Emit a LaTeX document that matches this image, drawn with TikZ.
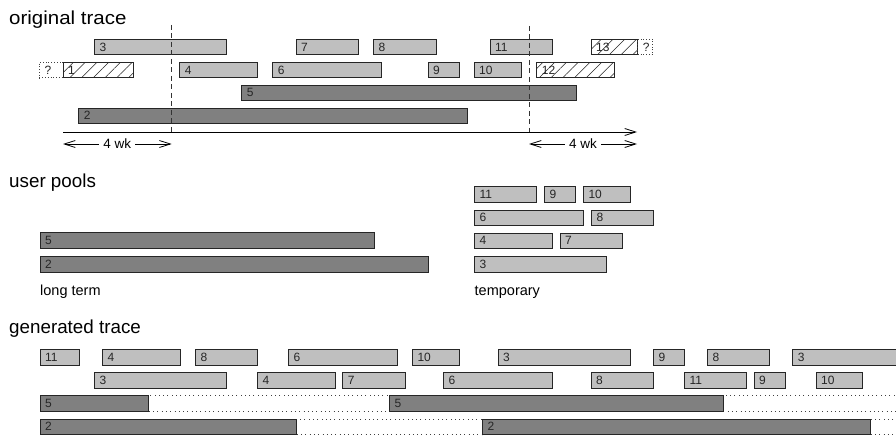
\documentclass[tikz,border=0pt]{standalone}
\usepackage{fontspec}
\setmainfont{Liberation Sans}
\usetikzlibrary{patterns.meta,arrows.meta}

\tikzset{
  bar/.style={draw=black!85, line width=0.8pt, inner sep=0pt, outer sep=0pt,
    minimum height=15.6pt, anchor=north west},
  lbar/.style={bar, fill=black!25},
  dbar/.style={bar, fill=black!50},
  hbar/.style={bar, pattern={Lines[angle=45,distance=8.3pt,line width=0.55pt]}, pattern color=black!85},
  qbox/.style={bar, draw=black!75, dotted},
  gapbox/.style={bar, draw=black!75, line width=0.7pt, dash pattern=on 0.8pt off 3.5pt},
  blabel/.style={font=\fontsize{12}{12}\selectfont, inner sep=0pt, anchor=west, text=black!85},
  title/.style={font=\fontsize{18.8}{20}\selectfont, anchor=base west, inner sep=0pt},
  caption/.style={font=\fontsize{14.5}{16}\selectfont, anchor=base west, inner sep=0pt},
  vdash/.style={draw=black!80, line width=0.8pt, dash pattern=on 5pt off 3.5pt},
  axisline/.style={draw=black, line width=0.8pt, -{Straight Barb[length=11pt,width=7pt]}},
  wkarrow/.style={draw=black, line width=0.8pt, {Straight Barb[length=11pt,width=7pt]}-{Straight Barb[length=11pt,width=7pt]}},
  wklabel/.style={font=\fontsize{13.5}{14}\selectfont, fill=white, inner xsep=4pt, inner ysep=1pt},
}

% name, style, x1, x2, ytop, label
\newcommand\jobbox[6]{%
  \node[#2, minimum width={(#4-#3)*1pt}] (#1) at (#3,#5) {};
  \node[blabel] (#1l) at ([xshift=5pt]#1.west) {#6};}
\newcommand\gapb[4]{%
  \node[gapbox, minimum width={(#4-#3)*1pt}] (#1) at (#3,#2) {};}

\begin{document}
\begin{tikzpicture}[x=1pt,y=-1pt]
\clip (0,0) rectangle (896,441);
\fill[white] (0,0) rectangle (896,441);

% ---------- original trace ----------
\node[title] (t1) at (9,24.5) {\scalebox{1.09}[1]{original trace}};

\jobbox{o3}{lbar}{94.3}{226.7}{39.3}{3}
\jobbox{o7}{lbar}{296}{358.3}{39.3}{7}
\jobbox{o8}{lbar}{373.3}{436}{39.3}{8}
\jobbox{o11}{lbar}{490}{552.3}{39.3}{11}
\jobbox{o13}{hbar}{591}{637.7}{39.3}{13}
\jobbox{oq2}{qbox}{637.7}{652.7}{39.3}{?}

\jobbox{oq1}{qbox}{39.3}{63}{62.3}{?}
\jobbox{o1}{hbar}{63}{133.7}{62.3}{1}
\jobbox{o4}{lbar}{179.7}{257.7}{62.3}{4}
\jobbox{o6}{lbar}{272.7}{381.7}{62.3}{6}
\jobbox{o9}{lbar}{428}{459.3}{62.3}{9}
\jobbox{o10}{lbar}{474}{521.7}{62.3}{10}
\jobbox{o12}{hbar}{536.7}{614.3}{62.3}{12}

\jobbox{o5}{dbar}{241.7}{576}{85}{5}
\jobbox{o2}{dbar}{78.7}{467.3}{108}{2}

\coordinate (d1t) at (171.7,25);
\coordinate (d1b) at (171.7,132);
\coordinate (d2t) at (529,26);
\coordinate (d2b) at (529,132);
\draw[vdash] (d1t) -- (d1b);
\draw[vdash] (d2t) -- (d2b);

\coordinate (ax0) at (63,132);
\coordinate (ax1) at (637,132);
\draw[axisline] (ax0) -- (ax1);

\coordinate (w1a) at (63,144);
\coordinate (w1b) at (171.7,144);
\coordinate (w2a) at (529,144);
\coordinate (w2b) at (637,144);
\draw[wkarrow] (w1a) -- (w1b) node[midway, wklabel] (wk1) {4 wk};
\draw[wkarrow] (w2a) -- (w2b) node[midway, wklabel] (wk2) {4 wk};

% ---------- user pools ----------
\node[title] (t2) at (9,187.3) {user pools};

\jobbox{u5}{dbar}{40}{374}{232.7}{5}
\jobbox{u2}{dbar}{40}{428.3}{256.3}{2}
\node[caption] (lt) at (40,295) {long term};

\jobbox{p11}{lbar}{474.3}{536}{186.7}{11}
\jobbox{p9}{lbar}{544.3}{575.7}{186.7}{9}
\jobbox{p10}{lbar}{583.3}{630}{186.7}{10}
\jobbox{p6}{lbar}{474.3}{583.3}{209.9}{6}
\jobbox{p8}{lbar}{591.3}{653.3}{209.9}{8}
\jobbox{p4}{lbar}{474.3}{552.3}{233}{4}
\jobbox{p7}{lbar}{560}{622.3}{233}{7}
\jobbox{p3}{lbar}{474.3}{606.7}{256.3}{3}
\node[caption] (tp) at (474.5,295) {temporary};

% ---------- generated trace ----------
\node[title] (t3) at (9,333) {generated trace};

\jobbox{g11}{lbar}{40}{79}{349.3}{11}
\jobbox{g4}{lbar}{102.3}{180}{349.3}{4}
\jobbox{g8}{lbar}{195.3}{257.3}{349.3}{8}
\jobbox{g6}{lbar}{288.3}{397.3}{349.3}{6}
\jobbox{g10}{lbar}{412.3}{459.3}{349.3}{10}
\jobbox{g3}{lbar}{498}{630.3}{349.3}{3}
\jobbox{g9}{lbar}{653.3}{684.3}{349.3}{9}
\jobbox{g8b}{lbar}{707.3}{769.7}{349.3}{8}
\jobbox{g3b}{lbar}{792.7}{925}{349.3}{3}

\jobbox{h3}{lbar}{94.3}{226.7}{372.7}{3}
\jobbox{h4}{lbar}{257.3}{335.3}{372.7}{4}
\jobbox{h7}{lbar}{342.7}{405}{372.7}{7}
\jobbox{h6}{lbar}{443.3}{552.7}{372.7}{6}
\jobbox{h8}{lbar}{591}{653.7}{372.7}{8}
\jobbox{h11}{lbar}{684.3}{746.7}{372.7}{11}
\jobbox{h9}{lbar}{754}{785.3}{372.7}{9}
\jobbox{h10}{lbar}{816}{862.7}{372.7}{10}

\gapb{ga1}{395.7}{148.7}{389.3}
\gapb{ga2}{395.7}{723.3}{930}
\jobbox{k5a}{dbar}{40}{148.7}{395.7}{5}
\jobbox{k5b}{dbar}{389.3}{723.3}{395.7}{5}

\gapb{gb1}{419}{296.7}{482.3}
\gapb{gb2}{419}{870.7}{930}
\jobbox{k2a}{dbar}{40}{296.7}{419}{2}
\jobbox{k2b}{dbar}{482.3}{870.7}{419}{2}
\end{tikzpicture}
\end{document}
